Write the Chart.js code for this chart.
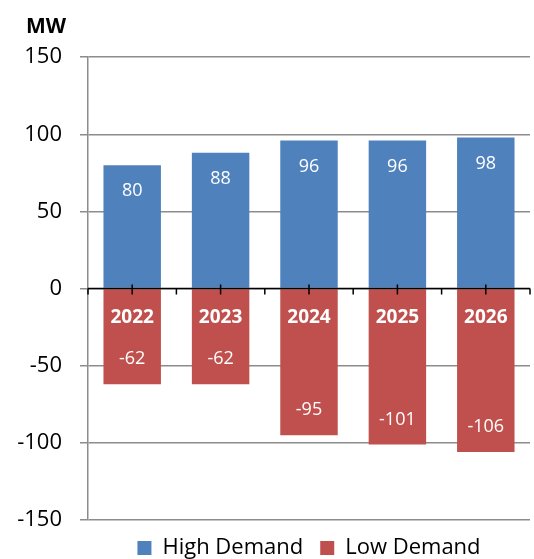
<!DOCTYPE html>
<html lang="en">
<head>
  <meta charset="UTF-8" />
  <title>High / Low Demand (MW)</title>
  <script src="https://cdn.jsdelivr.net/npm/chart.js"></script>
  <style>
    body { margin: 0; background: #fff; }
    #wrap { width: 534px; height: 559px; }
  </style>
</head>
<body>
  <div id="wrap"><canvas id="demandChart"></canvas></div>

  <script>
    const years = ['2022', '2023', '2024', '2025', '2026'];
    const highDemand = [80, 88, 96, 96, 98];
    const lowDemand = [-62, -62, -95, -101, -106];
    const yTicks = { min: -150, max: 150, step: 50 };

    const FONT = "'Open Sans', sans-serif";

    // value labels inside the bar ends + black zero line with tick marks
    const barExtras = {
      id: 'barExtras',
      afterLayout(chart) {
        // "MW" sits a little right of the tick labels
        if (chart.titleBlock) {
          chart.titleBlock.left += 12;
          chart.titleBlock.right += 12;
        }
      },
      afterDatasetsDraw(chart) {
        const ctx = chart.ctx;
        const x = chart.scales.x, y = chart.scales.y;
        const y0 = y.getPixelForValue(0);
        const area = chart.chartArea;

        ctx.save();
        ctx.strokeStyle = '#000';
        ctx.lineWidth = 1.5;
        ctx.beginPath();
        ctx.moveTo(area.left, y0);
        ctx.lineTo(area.right, y0);
        const half = (x.getPixelForValue(1) - x.getPixelForValue(0)) / 2;
        years.forEach((_, i) => {
          const cx = x.getPixelForValue(i);
          ctx.moveTo(cx, y0 - 4);
          ctx.lineTo(cx, y0 + 6);
          ctx.moveTo(cx + half, y0);
          ctx.lineTo(cx + half, y0 + 6);
        });
        ctx.moveTo(area.left, y0);
        ctx.lineTo(area.left, y0 + 6);
        ctx.stroke();

        ctx.fillStyle = '#fff';
        ctx.font = '18px ' + FONT;
        ctx.textAlign = 'center';
        ctx.textBaseline = 'middle';
        chart.data.datasets.forEach((ds, di) => {
          chart.getDatasetMeta(di).data.forEach((bar, i) => {
            const v = ds.data[i];
            const ty = v >= 0 ? bar.y + 26 : bar.y - 25;
            ctx.fillText(String(v), bar.x, ty);
          });
        });
        ctx.restore();
      }
    };

    new Chart(document.getElementById('demandChart'), {
      type: 'bar',
      data: {
        labels: years,
        datasets: [
          { label: 'High Demand', data: highDemand, backgroundColor: '#4F81BD' },
          { label: 'Low Demand', data: lowDemand, backgroundColor: '#C0504D' }
        ]
      },
      options: {
        responsive: true,
        maintainAspectRatio: false,
        animation: false,
        datasets: { bar: { barPercentage: 0.65, categoryPercentage: 1 } },
        layout: { padding: { left: 14, right: 4, top: 0, bottom: -10 } },
        plugins: {
          title: {
            display: true,
            text: 'MW',
            align: 'start',
            color: '#000',
            font: { family: FONT, size: 21, weight: 'bold' },
            padding: { top: 14, bottom: 18 }
          },
          legend: {
            position: 'bottom',
            fullSize: false,
            labels: {
              color: '#000',
              font: { family: FONT, size: 22 },
              boxWidth: 14,
              boxHeight: 14,
              padding: 17
            }
          },
          tooltip: { enabled: false }
        },
        scales: {
          x: {
            stacked: true,
            position: { y: 0 },
            afterFit(s) { s.height = 0; },
            grid: { display: false },
            border: { display: false },
            ticks: {
              z: 1,
              color: '#fff',
              padding: 10,
              font: { family: FONT, size: 19, weight: 'bold' }
            }
          },
          y: {
            stacked: true,
            min: yTicks.min,
            max: yTicks.max,
            afterFit(s) { s.width = 74; },
            grid: { color: '#8c8c8c', lineWidth: 1.5, tickLength: 8 },
            border: { color: '#8c8c8c', width: 1.5 },
            ticks: {
              stepSize: yTicks.step,
              color: '#000',
              padding: 18,
              font: { family: FONT, size: 22 }
            }
          }
        }
      },
      plugins: [barExtras]
    });
  </script>
</body>
</html>
